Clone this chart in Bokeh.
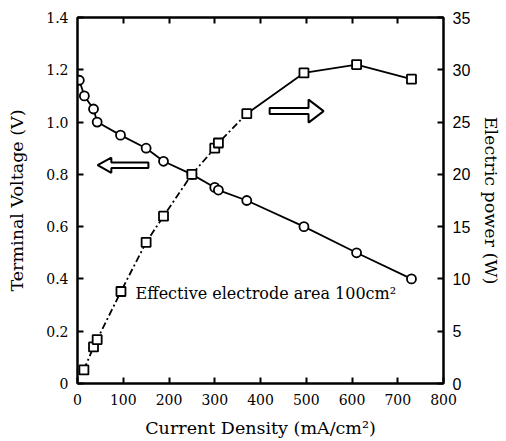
from bokeh.plotting import figure
from bokeh.models import Range1d, LinearAxis, FixedTicker, Label, PrintfTickFormatter
from bokeh.embed import file_html
from bokeh.resources import INLINE

# ---- data ----
current_v = [4, 15, 35, 43, 94, 150, 188, 250, 300, 308, 370, 495, 610, 730]
voltage = [1.16, 1.10, 1.05, 1.00, 0.95, 0.90, 0.85, 0.80, 0.75, 0.74, 0.70, 0.60, 0.50, 0.40]

current_p = [14, 35, 43, 95, 150, 188, 250, 300, 308, 370, 495, 610, 730]
power = [1.3, 3.5, 4.2, 8.8, 13.5, 16.0, 20.0, 22.5, 23.0, 25.8, 29.7, 30.5, 29.1]
solid_from = 9  # index where power line becomes solid

x_ticks = [0, 100, 200, 300, 400, 500, 600, 700, 800]
top_ticks = [100, 200, 300, 400, 500, 600, 700]
v_ticks = [0, 0.2, 0.4, 0.6, 0.8, 1.0, 1.2, 1.4]
p_ticks = [0, 5, 10, 15, 20, 25, 30, 35]

SERIF = "DejaVu Serif"
SANS = "Liberation Sans"

p = figure(width=504, height=441, output_backend="svg", toolbar_location=None,
           x_range=Range1d(0, 800), y_range=Range1d(0, 1.4),
           min_border_left=77, min_border_right=61, min_border_top=17, min_border_bottom=58)
p.extra_y_ranges = {"power": Range1d(0, 35)}
p.xgrid.visible = False
p.ygrid.visible = False
p.background_fill_color = "white"
p.border_fill_color = "white"
p.outline_line_color = "black"
p.outline_line_width = 2

def style(ax, tick_font, tick_size):
    ax.axis_line_color = "black"
    ax.axis_line_width = 2
    ax.major_tick_line_color = "black"
    ax.major_tick_line_width = 2
    ax.major_tick_in = 6
    ax.major_tick_out = 0
    ax.minor_tick_line_color = None
    ax.major_label_text_font = tick_font
    ax.major_label_text_font_size = tick_size
    ax.major_label_text_color = "black"
    ax.axis_label_text_font = SERIF
    ax.axis_label_text_font_style = "normal"
    ax.axis_label_text_font_size = "17.5px"
    ax.axis_label_text_color = "black"

xa = p.xaxis[0]
style(xa, SERIF, "14px")
xa.ticker = FixedTicker(ticks=x_ticks)
xa.axis_label = "Current Density (mA/cm\u00b2)"
xa.major_label_standoff = 10
xa.axis_label_standoff = 10

ya = p.yaxis[0]
style(ya, SERIF, "14px")
ya.ticker = FixedTicker(ticks=v_ticks)
ya.formatter = PrintfTickFormatter(format="%.1f")
ya.major_label_overrides = {0: "0"}
ya.axis_label = "Terminal Voltage (V)"
ya.major_label_standoff = 9
ya.axis_label_standoff = 16

ra = LinearAxis(y_range_name="power", ticker=FixedTicker(ticks=p_ticks),
                axis_label="Electric power (W)")
style(ra, SANS, "16px")
ra.major_label_standoff = 9
ra.axis_label_standoff = 8
p.add_layout(ra, "right")

ta = LinearAxis(ticker=FixedTicker(ticks=top_ticks))
style(ta, SANS, "0px")
ta.major_label_standoff = 0
ta.major_label_overrides = {t: "" for t in top_ticks}
p.add_layout(ta, "above")

# voltage curve
p.line(current_v, voltage, line_color="black", line_width=1.8)
p.scatter(current_v, voltage, marker="circle", size=9, fill_color="white",
          line_color="black", line_width=1.8)

# power curve
p.line(current_p[:solid_from + 1], power[:solid_from + 1], y_range_name="power",
       line_color="black", line_width=1.8, line_dash="7 3 2 3")
p.line(current_p[solid_from:], power[solid_from:], y_range_name="power",
       line_color="black", line_width=1.8)
p.scatter(current_p, power, y_range_name="power", marker="square", size=9,
          fill_color="white", line_color="black", line_width=1.8)

# arrows (hollow)
def arrow(tip_x, base_x, tail_x, yc, head_h, shaft_h):
    xs = [tip_x, base_x, base_x, tail_x, tail_x, base_x, base_x]
    ys = [yc, yc + head_h, yc + shaft_h, yc + shaft_h, yc - shaft_h, yc - shaft_h, yc - head_h]
    p.patch(xs, ys, fill_color="white", line_color="black", line_width=2)

arrow(44, 74, 155, 0.835, 0.029, 0.0104)
arrow(538, 505, 420, 1.042, 0.044, 0.0115)

p.add_layout(Label(x=127, y=0.346, text="Effective electrode area 100cm\u00b2",
                   text_font=SERIF, text_font_size="16px", text_color="black",
                   text_baseline="alphabetic"))

open("out.html", "w").write(file_html(p, INLINE))
